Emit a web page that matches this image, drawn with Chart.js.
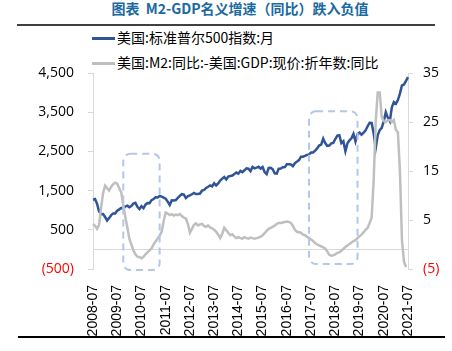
<!DOCTYPE html>
<html><head><meta charset="utf-8">
<script src="https://cdn.jsdelivr.net/npm/chart.js@4.4.0/dist/chart.umd.min.js"></script>
<style>
html,body{margin:0;padding:0;background:#fff;}
#wrap{position:relative;width:452px;height:351px;overflow:hidden;}
#c{position:absolute;left:0;top:0;}
.title{position:absolute;left:0;width:480px;top:-2px;text-align:center;font:bold 14px "Noto Sans CJK SC";color:#1b6aa0;white-space:nowrap;}
.rule{position:absolute;}
.lg{position:absolute;left:92px;font:14px "Noto Sans CJK SC";color:#000;white-space:nowrap;}
.lg i{display:inline-block;width:23px;height:3px;vertical-align:middle;margin-right:2px;position:relative;top:-1px;}
</style></head>
<body><div id="wrap">
<div class="title">图表&nbsp;&nbsp;M2-GDP名义增速（同比）跌入负值</div>
<div class="rule" style="left:17px;top:24px;width:418px;height:2px;background:#404040"></div>
<div class="lg" style="top:27px"><i style="background:#2f5597"></i>美国:标准普尔500指数:月</div>
<div class="lg" style="top:52px"><i style="background:#bfbfbf"></i>美国:M2:同比:-美国:GDP:现价:折年数:同比</div>
<canvas id="c" width="452" height="351"></canvas>
<div class="rule" style="left:18px;top:336px;width:427px;height:2px;background:#000"></div>
</div>
<script>
// categories: monthly, 2008-07 .. 2021-07
const startYear = 2008, startMonth = 7, monthCount = 157;
const months = [];
for (let i = 0; i < monthCount; i++) {
  const t = startMonth - 1 + i;
  const y = startYear + Math.floor(t / 12), m = (t % 12) + 1;
  months.push(y + '-' + (m < 10 ? '0' + m : '' + m));
}
const seriesNames = ['美国:标准普尔500指数:月', '美国:M2:同比:-美国:GDP:现价:折年数:同比'];
const sp500 = [
1267,1283,1166,969,896,903,
826,735,798,873,919,919,987,1021,1057,1036,1096,1115,
1074,1104,1169,1187,1089,1031,1102,1049,1141,1183,1181,1258,
1286,1327,1326,1364,1345,1321,1292,1219,1131,1253,1247,1258,
1312,1366,1408,1398,1310,1362,1379,1407,1441,1412,1416,1426,
1498,1515,1569,1598,1631,1606,1686,1633,1682,1757,1806,1848,
1783,1859,1872,1884,1924,1960,1931,2003,1972,2018,2068,2059,
1995,2105,2068,2086,2107,2063,2104,1972,1920,2079,2080,2044,
1940,1932,2060,2065,2097,2099,2174,2171,2168,2126,2199,2239,
2279,2364,2363,2384,2412,2423,2470,2472,2519,2575,2648,2674,
2824,2714,2641,2648,2705,2718,2816,2902,2914,2712,2760,2507,
2704,2784,2834,2946,2752,2942,2980,2926,2977,3038,3141,3231,
3226,2954,2585,2912,3044,3100,3271,3500,3363,3270,3622,3756,
3714,3811,3973,4181,4204,4298,4395
];
const m2MinusGdp = [
4.2,3.8,3.2,4.0,7.5,10.5,
12.0,11.5,11.0,11.8,12.3,12.6,12.4,11.5,10.6,8.0,5.6,3.5,
1.2,0.0,-1.2,-2.0,-2.5,-2.6,-2.8,-2.5,-2.0,-1.6,-1.2,-0.8,
0.0,0.6,1.2,1.8,2.6,4.8,6.5,6.3,6.0,6.2,5.9,6.1,
6.0,6.2,5.8,5.5,5.3,4.2,2.4,3.2,4.0,4.3,3.9,4.1,
4.2,3.8,3.6,3.9,3.5,3.3,3.0,2.6,2.0,1.3,2.2,3.4,
2.9,2.4,1.9,2.1,1.6,1.3,1.5,1.3,1.2,1.5,1.3,1.2,
1.4,1.3,1.2,1.3,1.4,1.6,1.9,2.3,2.8,3.2,3.4,3.6,
3.9,4.2,4.4,4.4,4.5,4.6,4.7,4.6,4.4,3.8,3.0,2.6,
2.5,2.4,2.0,1.9,1.6,1.3,1.0,0.7,0.3,0.0,-0.2,-0.4,
-0.6,-0.8,-1.4,-2.1,-2.3,-2.2,-2.0,-1.7,-1.6,-1.3,-0.9,-0.5,
-0.2,0.1,0.4,0.7,0.9,1.3,1.7,2.0,2.5,3.0,3.4,4.4,
5.5,13.0,25.0,31.0,31.0,26.0,25.2,25.0,25.3,25.4,25.0,25.4,
23.4,22.9,15.0,1.0,-3.5,-4.6,null
];
const leftTicks = [-500, 4500, 1000];   // min, max, step
const rightTicks = [-5, 35, 10];
// highlight boxes: [from month, to month, top (right axis), bottom (right axis)]
const boxFrom = ['2009-10', '2017-06'];
const boxTo = ['2011-04', '2019-06'];
const boxTop = [18.5, 27.2];
const boxBottom = [-5.2, -4.0];

const fmt = v => v < 0 ? '(' + Math.abs(v).toLocaleString('en-US') + ')' : v.toLocaleString('en-US');
const tickCol = ctx => ctx.tick && ctx.tick.value < 0 ? '#ff0000' : '#000000';

const overlay = {
  id: 'overlay',
  beforeDatasetsDraw(chart) {
    const {ctx, chartArea: a, scales} = chart;
    const y0 = scales.y.getPixelForValue(0);
    ctx.save();
    ctx.strokeStyle = '#d9d9d9'; ctx.lineWidth = 1;
    ctx.beginPath(); ctx.moveTo(a.left, Math.round(y0) + 0.5); ctx.lineTo(a.right, Math.round(y0) + 0.5); ctx.stroke();
    ctx.restore();
  },
  afterDatasetsDraw(chart) {
    const {ctx, scales} = chart;
    ctx.save();
    ctx.strokeStyle = '#b4c7e7'; ctx.lineWidth = 2; ctx.setLineDash([7, 5]);
    for (let i = 0; i < boxFrom.length; i++) {
      const x1 = scales.x.getPixelForValue(months.indexOf(boxFrom[i]));
      const x2 = scales.x.getPixelForValue(months.indexOf(boxTo[i]));
      const y1 = scales.y1.getPixelForValue(boxTop[i]);
      const y2 = scales.y1.getPixelForValue(boxBottom[i]);
      ctx.beginPath();
      ctx.roundRect(x1, y1, x2 - x1, y2 - y1, 7);
      ctx.stroke();
    }
    ctx.restore();
  }
};

new Chart(document.getElementById('c'), {
  type: 'line',
  data: {
    labels: months,
    datasets: [
      {label: seriesNames[0], data: sp500, yAxisID: 'y', borderColor: '#2f5597', borderWidth: 2.5, pointRadius: 0, tension: 0, order: 1},
      {label: seriesNames[1], data: m2MinusGdp, yAxisID: 'y1', borderColor: '#bfbfbf', borderWidth: 2.5, pointRadius: 0, tension: 0, order: 0}
    ]
  },
  options: {
    responsive: false, animation: false,
    layout: {padding: {top: 73, left: 0, right: 0, bottom: 0}},
    plugins: {legend: {display: false}, tooltip: {enabled: false}},
    scales: {
      x: {
        offset: false,
        grid: {display: false},
        border: {display: false},
        ticks: {
          autoSkip: false, maxRotation: 90, minRotation: 90, padding: 8,
          font: {family: 'Liberation Sans', size: 14}, color: '#000',
          callback: function(v, i) { const l = months[i]; return l.endsWith('-07') ? l : null; }
        },
        afterFit: s => { s.height = 82; }
      },
      y: {
        position: 'left', min: leftTicks[0], max: leftTicks[1],
        ticks: {stepSize: leftTicks[2], padding: 14, font: {family: 'Open Sans', size: 14}, color: tickCol, callback: v => fmt(v)},
        grid: {drawOnChartArea: false, drawTicks: true, tickLength: 5, color: '#d9d9d9'},
        border: {display: true, color: '#d9d9d9', width: 1},
        afterFit: s => { s.width = 93; }
      },
      y1: {
        position: 'right', min: rightTicks[0], max: rightTicks[1],
        ticks: {stepSize: rightTicks[2], padding: 10, font: {family: 'Open Sans', size: 14}, color: tickCol, callback: v => fmt(v)},
        grid: {drawOnChartArea: false, drawTicks: true, tickLength: 5, color: '#d9d9d9'},
        border: {display: true, color: '#d9d9d9', width: 1},
        afterFit: s => { s.width = 44; }
      }
    }
  },
  plugins: [overlay]
});
</script>
</body></html>
